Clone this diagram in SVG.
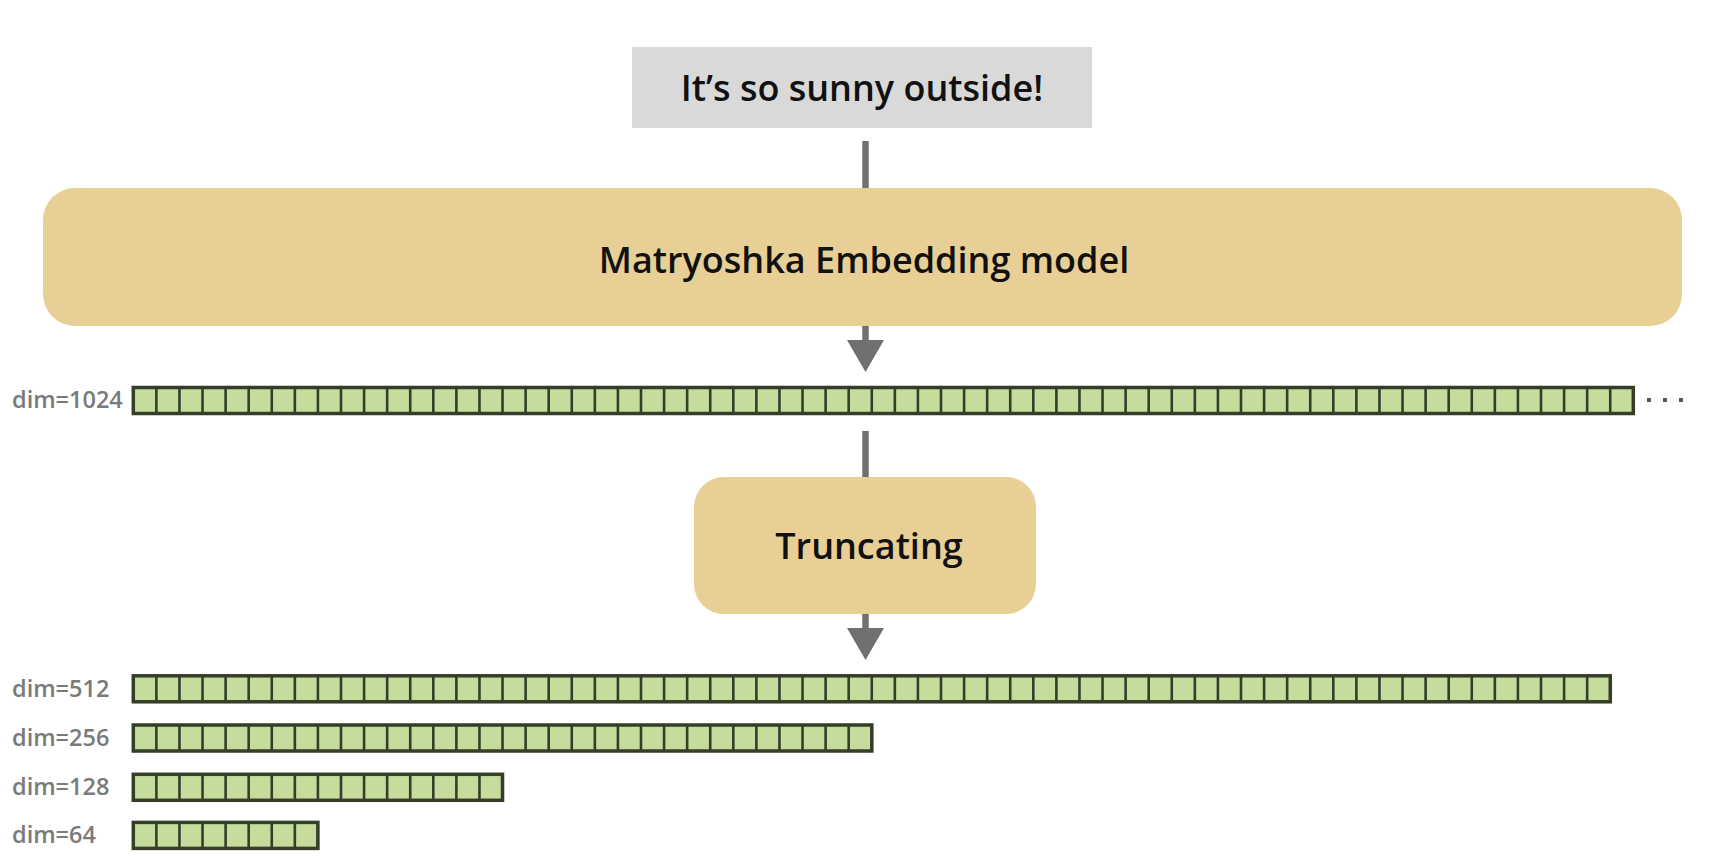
<svg xmlns="http://www.w3.org/2000/svg" width="1724" height="862" viewBox="0 0 1724 862">
<style>
.title{font-family:"Open Sans","Noto Sans",sans-serif;font-weight:600;font-size:36px;fill:#111;text-anchor:middle}
.lbl{font-family:"Open Sans","Noto Sans",sans-serif;font-weight:600;font-size:23.5px;fill:#7a7a7a}
.bar{fill:#c6dc9c;stroke:#343e29;stroke-width:3.5}
.sep{stroke:#343e29;stroke-width:26;stroke-dasharray:2.6 20.477;stroke-dashoffset:1.3}
.conn{stroke:#707070;stroke-width:6.5;fill:none}
</style>
<defs>
<marker id="ah" markerUnits="userSpaceOnUse" markerWidth="32" markerHeight="37" viewBox="0 0 32 37" refX="0" refY="18.5" orient="auto">
<path d="M0,0 L32,18.5 L0,37 z" fill="#707070"/>
</marker>
</defs>
<rect width="1724" height="862" fill="#ffffff"/>
<g id="connectors">
<line class="conn" x1="865.5" y1="141" x2="865.5" y2="189"/>
<line class="conn" x1="865.5" y1="325" x2="865.5" y2="340" marker-end="url(#ah)"/>
<line class="conn" x1="865.5" y1="431" x2="865.5" y2="478"/>
<line class="conn" x1="865.5" y1="613" x2="865.5" y2="628" marker-end="url(#ah)"/>
</g>
<g id="input">
<rect x="632" y="47" width="460" height="81" fill="#d9d9d9"/>
<text class="title" x="862" y="101">It’s so sunny outside!</text>
</g>
<g id="model">
<rect x="43" y="188" width="1639" height="138" rx="32" fill="#e8cf96"/>
<text class="title" x="864" y="273">Matryoshka Embedding model</text>
</g>
<g id="vec1024">
<text class="lbl" x="12" y="408">dim=1024</text>
<rect class="bar" x="133.3" y="387.5" width="1500" height="26"/>
<line class="sep" x1="133.3" y1="400.5" x2="1633.3" y2="400.5"/>
<g fill="#555">
<rect x="1647" y="398" width="4" height="4"/>
<rect x="1663" y="398" width="4" height="4"/>
<rect x="1679" y="398" width="4" height="4"/>
</g>
</g>
<g id="truncating">
<rect x="694" y="477" width="342" height="137" rx="30" fill="#e8cf96"/>
<text class="title" x="869" y="559">Truncating</text>
</g>
<g id="vec512">
<text class="lbl" x="12" y="697">dim=512</text>
<rect class="bar" x="133.3" y="675.8" width="1477" height="26"/>
<line class="sep" x1="133.3" y1="688.8" x2="1610.3" y2="688.8"/>
</g>
<g id="vec256">
<text class="lbl" x="12" y="746">dim=256</text>
<rect class="bar" x="133.3" y="725" width="738.5" height="26"/>
<line class="sep" x1="133.3" y1="738" x2="871.8" y2="738"/>
</g>
<g id="vec128">
<text class="lbl" x="12" y="795">dim=128</text>
<rect class="bar" x="133.3" y="774.3" width="369.2" height="26"/>
<line class="sep" x1="133.3" y1="787.3" x2="502.5" y2="787.3"/>
</g>
<g id="vec64">
<text class="lbl" x="12" y="843">dim=64</text>
<rect class="bar" x="133.3" y="822.4" width="184.6" height="26"/>
<line class="sep" x1="133.3" y1="835.4" x2="317.9" y2="835.4"/>
</g>
</svg>
